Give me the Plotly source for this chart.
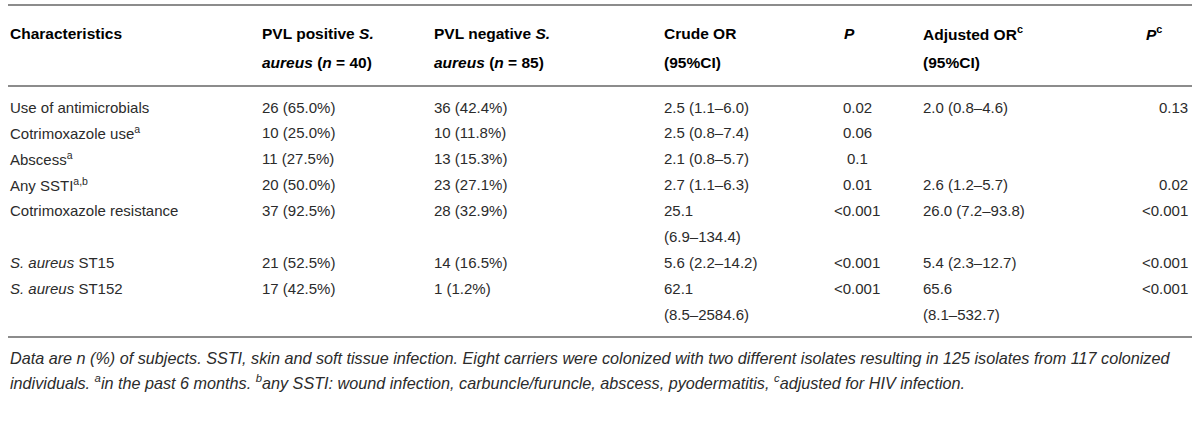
import plotly.graph_objects as go

# table content
headers_1 = ["<b>Characteristics</b>", "<b>PVL positive <i>S.</i></b>", "<b>PVL negative <i>S.</i></b>",
             "<b>Crude OR</b>", "<b><i>P</i></b>", "<b>Adjusted OR<sup>c</sup></b>", "<b><i>P</i><sup>c</sup></b>"]
headers_2 = ["", "<b><i>aureus</i> (<i>n</i> = 40)</b>", "<b><i>aureus</i> (<i>n</i> = 85)</b>",
             "<b>(95%CI)</b>", "", "<b>(95%CI)</b>", ""]

characteristics = ["Use of antimicrobials", "Cotrimoxazole use<sup>a</sup>", "Abscess<sup>a</sup>",
                   "Any SSTI<sup>a,b</sup>", "Cotrimoxazole resistance",
                   "<i>S. aureus</i> ST15", "<i>S. aureus</i> ST152"]
pvl_pos = ["26 (65.0%)", "10 (25.0%)", "11 (27.5%)", "20 (50.0%)", "37 (92.5%)", "21 (52.5%)", "17 (42.5%)"]
pvl_neg = ["36 (42.4%)", "10 (11.8%)", "13 (15.3%)", "23 (27.1%)", "28 (32.9%)", "14 (16.5%)", "1 (1.2%)"]
crude_or = ["2.5 (1.1–6.0)", "2.5 (0.8–7.4)", "2.1 (0.8–5.7)", "2.7 (1.1–6.3)",
            "25.1\n(6.9–134.4)", "5.6 (2.2–14.2)", "62.1\n(8.5–2584.6)"]
p_crude = ["0.02", "0.06", "0.1", "0.01", "&lt;0.001", "&lt;0.001", "&lt;0.001"]
adj_or = ["2.0 (0.8–4.6)", "", "", "2.6 (1.2–5.7)", "26.0 (7.2–93.8)", "5.4 (2.3–12.7)",
          "65.6\n(8.1–532.7)"]
p_adj = ["0.13", "", "", "0.02", "&lt;0.001", "&lt;0.001", "&lt;0.001"]

footnotes = [
    "Data are n (%) of subjects. SSTI, skin and soft tissue infection. Eight carriers were colonized "
    "with two different isolates resulting in 125 isolates from 117 colonized",
    "individuals. <sup>a</sup>in the past 6 months. <sup>b</sup>any SSTI: wound infection, "
    "carbuncle/furuncle, abscess, pyodermatitis, <sup>c</sup>adjusted for HIV infection.",
]

# layout of the table (pixels)
W, H = 1200, 446
col_x = [8, 260, 432, 662, 857, 921, 1190]
col_anchor = ["left", "left", "left", "left", "center", "left", "right"]
head_x = [8, 260, 432, 662, 842, 921, 1144]
FONT = "Liberation Sans"
TXT = "#2b2b2b"
LINE = "#8c8c8c"

annotations = []


def put(x, y, text, anchor="left", size=15, color=TXT):
    annotations.append(dict(x=x, y=y, xref="x", yref="y", text=text, showarrow=False,
                            xanchor=anchor, yanchor="middle",
                            font=dict(family=FONT, size=size, color=color)))


for i in range(7):
    put(head_x[i], 33, headers_1[i], size=15.5, color="#000")
    if headers_2[i]:
        put(head_x[i], 62, headers_2[i], size=15.5, color="#000")

columns = [characteristics, pvl_pos, pvl_neg, crude_or, p_crude, adj_or, p_adj]
y = 107
step = 25.9
for r in range(len(characteristics)):
    nlines = 1
    for c, col in enumerate(columns):
        lines = col[r].split("\n")
        nlines = max(nlines, len(lines))
        for k, ln in enumerate(lines):
            if ln:
                put(col_x[c], y + k * step, ln, anchor=col_anchor[c])
    y += nlines * step

for k, ft in enumerate(footnotes):
    put(8, 358 + k * 24, "<i>" + ft + "</i>", size=16.2)

shapes = [dict(type="line", xref="x", yref="y", x0=8, x1=1192, y0=yy, y1=yy,
               line=dict(color=LINE, width=2)) for yy in (5, 86, 337)]

fig = go.Figure()
fig.update_layout(
    width=W, height=H,
    margin=dict(l=0, r=0, t=0, b=0),
    paper_bgcolor="white", plot_bgcolor="white",
    xaxis=dict(range=[0, W], visible=False, fixedrange=True),
    yaxis=dict(range=[H, 0], visible=False, fixedrange=True),
    annotations=annotations, shapes=shapes, showlegend=False,
)
fig.write_html("out.html", config={"displayModeBar": False},
               post_script="document.body.style.margin='0px';")
